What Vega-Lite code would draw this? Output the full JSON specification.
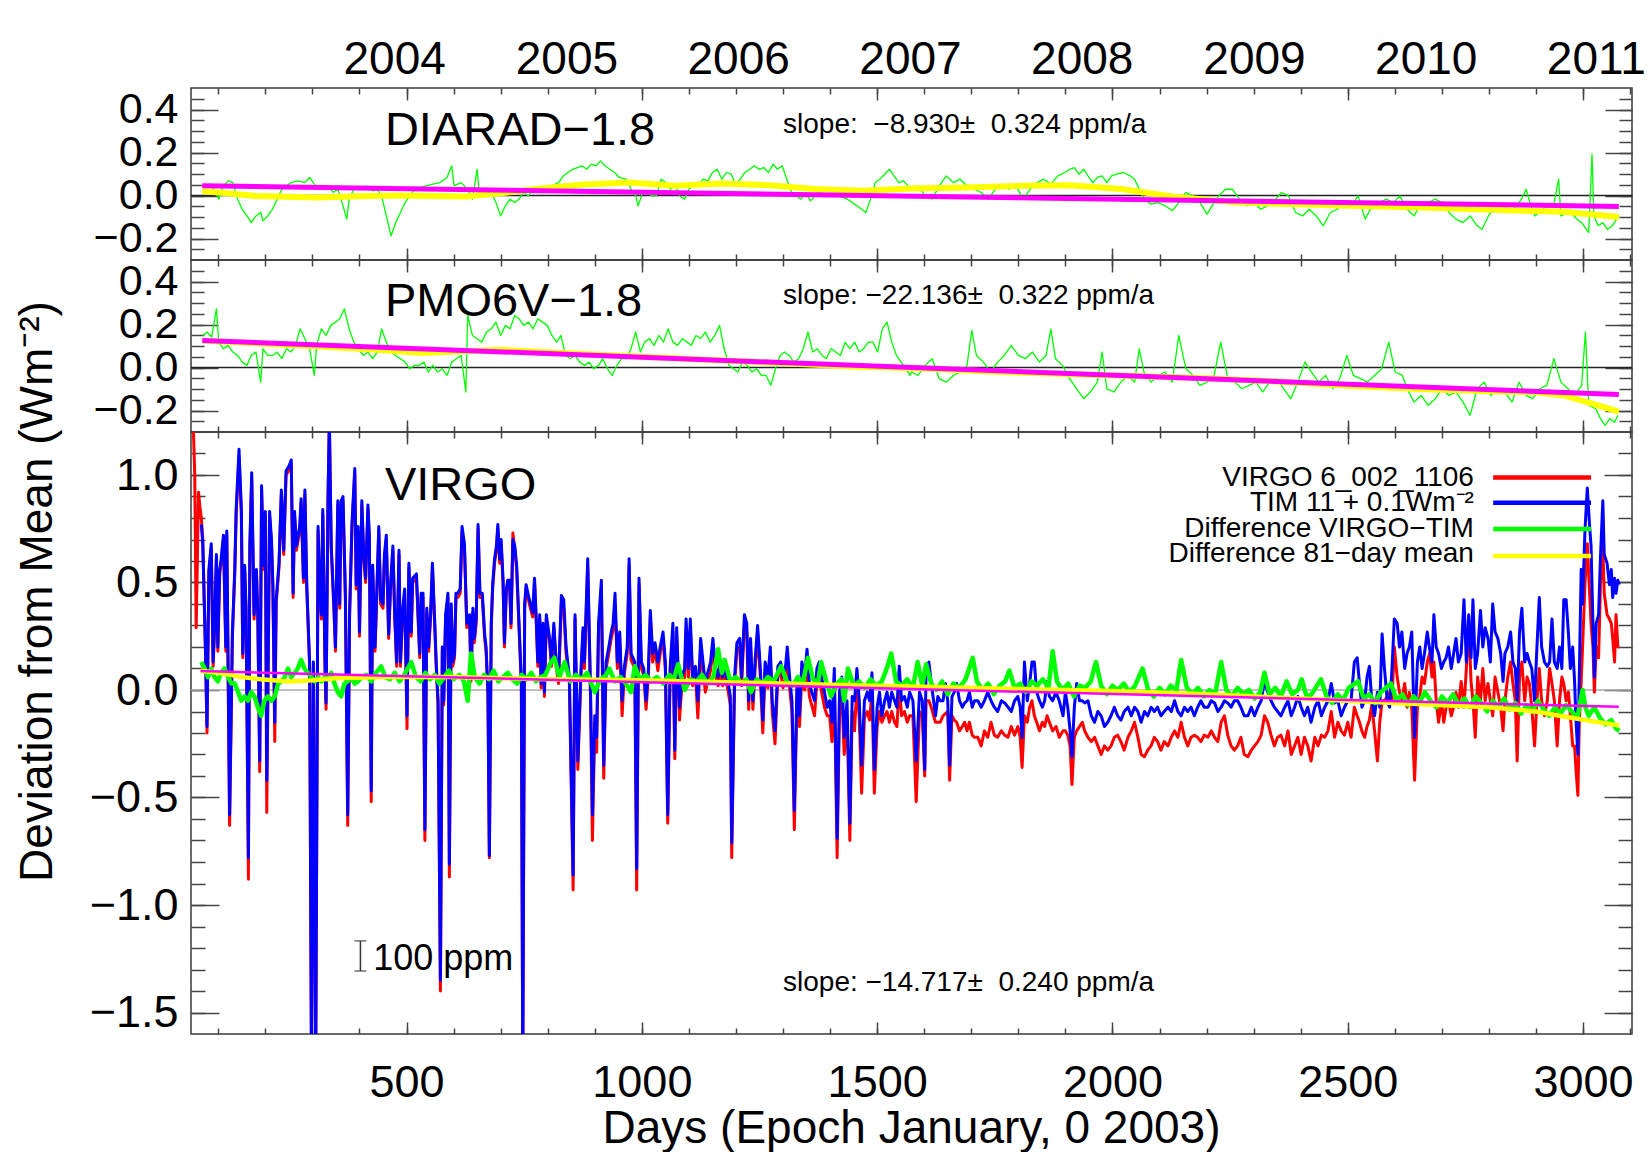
{
"$schema":"https://vega.github.io/schema/vega-lite/v6.json",
"background":"white",
"padding":{"left":13,"top":35,"right":0,"bottom":0},
"spacing":0,
"bounds":"flush",
"config":{
 "font":"Liberation Sans",
 "view":{"stroke":"#3a3a3a","strokeWidth":1.5},
 "axis":{"grid":false,"domain":false,"tickColor":"#444444","tickWidth":1.5,"labelColor":"#000000","titleColor":"#000000","labelFlush":false,"labelOverlap":false,"labelBound":false,"titleFontWeight":"normal","labelFont":"Liberation Sans","titleFont":"Liberation Sans"},
 "text":{"color":"#000000"}
},
"datasets":{
"virgo":[{"d":43,"v":1.25},{"d":47,"v":1.22},{"d":50,"v":1.0},{"d":53,"v":0.29},{"d":58,"v":0.92},{"d":61,"v":0.85},
{"d":64,"v":0.8,"t":0.77},{"d":67,"v":0.7,"t":0.68},{"d":73,"v":0.15,"t":0.17},{"d":76,"v":-0.2,"t":-0.17},{"d":80,"v":0.54,"t":0.56},{"d":85,"v":0.66,"t":0.68},{"d":89,"v":0.11,"t":0.13},{"d":92,"v":0.27,"t":0.29},{"d":96,"v":0.61,"t":0.63},{"d":99,"v":0.18,"t":0.2},{"d":103,"v":0.54,"t":0.56},{"d":106,"v":0.59,"t":0.61},{"d":111,"v":0.7,"t":0.72},{"d":116,"v":0.18,"t":0.2},{"d":118,"v":0.72,"t":0.74},{"d":124,"v":-0.63,"t":-0.58},{"d":130,"v":0.25,"t":0.27},{"d":135,"v":0.54,"t":0.56},{"d":138,"v":0.82,"t":0.84},{"d":144,"v":1.08,"t":1.12},{"d":149,"v":0.82,"t":0.84},{"d":152,"v":0.15,"t":0.17},{"d":156,"v":0.56,"t":0.58},{"d":159,"v":0.36,"t":0.38},{"d":164,"v":-0.88,"t":-0.78},{"d":167,"v":0.65,"t":0.67},{"d":171,"v":0.98,"t":1.01},{"d":176,"v":0.33,"t":0.35},{"d":181,"v":0.54,"t":0.56},{"d":184,"v":0.33,"t":0.35},{"d":188,"v":-0.38,"t":-0.33},{"d":192,"v":0.93,"t":0.95},{"d":196,"v":0.56,"t":0.58},{"d":200,"v":0.81,"t":0.83},{"d":203,"v":-0.57,"t":-0.42},{"d":206,"v":0.11,"t":0.13},{"d":209,"v":0.81,"t":0.83},{"d":213,"v":0.68,"t":0.7},{"d":216,"v":0.47,"t":0.49},{"d":220,"v":-0.24,"t":-0.15},{"d":223,"v":0.4,"t":0.42},{"d":229,"v":0.57,"t":0.59},{"d":234,"v":0.91,"t":0.93},{"d":239,"v":0.63,"t":0.65},{"d":244,"v":1.0,"t":1.02},{"d":250,"v":1.02,"t":1.04},{"d":255,"v":1.05,"t":1.07},{"d":259,"v":0.43,"t":0.45},{"d":262,"v":0.81,"t":0.83},{"d":266,"v":0.65,"t":0.67},{"d":273,"v":0.74,"t":0.76},{"d":276,"v":0.87,"t":0.89},{"d":281,"v":0.5,"t":0.52},{"d":284,"v":0.91,"t":0.93},{"d":288,"v":0.47,"t":0.49},{"d":294,"v":0.11,"t":0.13},{"d":298,"v":-1.75,"t":-1.75},{"d":302,"v":0.11,"t":0.13},{"d":307,"v":-1.75,"t":-1.75},{"d":312,"v":0.74,"t":0.76},{"d":315,"v":0.5,"t":0.52},{"d":319,"v":0.33,"t":0.35},{"d":322,"v":0.82,"t":0.84},{"d":327,"v":0.08,"t":0.1},{"d":329,"v":-0.09,"t":-0.06},{"d":333,"v":0.86,"t":0.88},{"d":336,"v":1.25,"t":1.25},{"d":340,"v":0.65,"t":0.67},{"d":345,"v":0.41,"t":0.43},{"d":349,"v":0.18,"t":0.2},{"d":354,"v":0.86,"t":0.88},{"d":358,"v":0.38,"t":0.4},{"d":361,"v":0.86,"t":0.88},{"d":365,"v":0.88,"t":0.9},{"d":370,"v":0.43,"t":0.45},{"d":375,"v":-0.63,"t":-0.58},{"d":379,"v":0.34,"t":0.36},{"d":384,"v":0.75,"t":0.77},{"d":390,"v":1.01,"t":1.03},{"d":393,"v":0.47,"t":0.49},{"d":397,"v":0.74,"t":0.76},{"d":400,"v":0.25,"t":0.27},{"d":405,"v":0.86,"t":0.88},{"d":409,"v":0.61,"t":0.63},{"d":413,"v":0.5,"t":0.52},{"d":418,"v":0.84,"t":0.86},{"d":421,"v":0.7,"t":0.72},{"d":425,"v":-0.52,"t":-0.47},{"d":428,"v":0.56,"t":0.58},{"d":433,"v":0.18,"t":0.2},{"d":436,"v":0.38,"t":0.4},{"d":441,"v":0.74,"t":0.76},{"d":445,"v":0.4,"t":0.42},{"d":450,"v":0.38,"t":0.4},{"d":453,"v":0.61,"t":0.63},{"d":457,"v":0.7,"t":0.72},{"d":462,"v":0.24,"t":0.26},{"d":466,"v":0.47,"t":0.49},{"d":471,"v":0.65,"t":0.67},{"d":475,"v":0.33,"t":0.35},{"d":479,"v":0.11,"t":0.13},{"d":484,"v":0.63,"t":0.65},{"d":487,"v":0.11,"t":0.13},{"d":492,"v":0.36,"t":0.38},{"d":496,"v":0.45,"t":0.47},{"d":501,"v":-0.18,"t":-0.12},{"d":505,"v":0.57,"t":0.59},{"d":510,"v":0.25,"t":0.27},{"d":513,"v":0.5,"t":0.52},{"d":521,"v":0.52,"t":0.54},{"d":528,"v":0.15,"t":0.17},{"d":531,"v":0.43,"t":0.45},{"d":535,"v":0.43,"t":0.45},{"d":539,"v":-0.7,"t":-0.65},{"d":543,"v":0.36,"t":0.38},{"d":547,"v":0.18,"t":0.2},{"d":551,"v":0.33,"t":0.35},{"d":555,"v":0.57,"t":0.59},{"d":560,"v":0.29,"t":0.31},{"d":563,"v":0.11,"t":0.13},{"d":567,"v":-0.07,"t":-0.05},{"d":572,"v":-1.4,"t":-1.35},{"d":576,"v":0.18,"t":0.2},{"d":579,"v":-0.07,"t":-0.05},{"d":583,"v":0.33,"t":0.35},{"d":588,"v":0.43,"t":0.45},{"d":591,"v":-0.87,"t":-0.81},{"d":595,"v":0.38,"t":0.4},{"d":598,"v":0.11,"t":0.13},{"d":602,"v":0.15,"t":0.17},{"d":605,"v":0.43,"t":0.45},{"d":609,"v":0.43,"t":0.45},{"d":614,"v":0.45,"t":0.47},{"d":618,"v":0.74,"t":0.76},{"d":623,"v":0.66,"t":0.68},{"d":628,"v":0.29,"t":0.31},{"d":634,"v":0.33,"t":0.35},{"d":637,"v":0.04,"t":0.06},{"d":641,"v":0.36,"t":0.38},{"d":644,"v":0.22,"t":0.24},{"d":648,"v":0.31,"t":0.33},{"d":652,"v":0.75,"t":0.77},{"d":656,"v":0.43,"t":0.45},{"d":661,"v":0.43,"t":0.45},{"d":666,"v":0.24,"t":0.26},{"d":669,"v":0.18,"t":0.2},{"d":673,"v":-0.03,"t":-0.01},{"d":676,"v":-0.78,"t":-0.77},{"d":680,"v":0.29,"t":0.31},{"d":683,"v":0.47,"t":0.49},{"d":687,"v":0.59,"t":0.61},{"d":691,"v":0.65,"t":0.67},{"d":694,"v":0.75,"t":0.77},{"d":698,"v":0.59,"t":0.61},{"d":701,"v":0.68,"t":0.7},{"d":705,"v":0.5,"t":0.52},{"d":708,"v":0.2,"t":0.22},{"d":712,"v":0.45,"t":0.47},{"d":715,"v":0.49,"t":0.51},{"d":719,"v":0.49,"t":0.51},{"d":722,"v":0.29,"t":0.31},{"d":726,"v":0.73,"t":0.7},{"d":730,"v":0.65,"t":0.67},{"d":734,"v":0.56,"t":0.58},{"d":739,"v":0.29,"t":0.31},{"d":744,"v":0.02,"t":0.04},{"d":747,"v":-1.75,"t":-1.75},{"d":751,"v":0.38,"t":0.4},{"d":754,"v":0.47,"t":0.49},{"d":758,"v":0.43,"t":0.45},{"d":761,"v":0.4,"t":0.42},{"d":768,"v":0.34,"t":0.36},{"d":772,"v":0.5,"t":0.52},{"d":776,"v":0.29,"t":0.31},{"d":779,"v":0.11,"t":0.13},{"d":783,"v":0.33,"t":0.35},{"d":786,"v":0.01,"t":0.03},{"d":790,"v":0.29,"t":0.31},{"d":793,"v":-0.03,"t":-0.01},{"d":797,"v":0.33,"t":0.35},{"d":804,"v":0.22,"t":0.24},{"d":808,"v":0.11,"t":0.13},
{"d":813,"v":0.29,"t":0.31},{"d":818,"v":0.11,"t":0.13},{"d":823,"v":0.03,"t":0.06},{"d":829,"v":0.4,"t":0.44},{"d":834,"v":0.38,"t":0.42},{"d":839,"v":0.17,"t":0.2},{"d":846,"v":0.03,"t":0.06},{"d":854,"v":-0.93,"t":-0.86},{"d":858,"v":0.33,"t":0.35},{"d":864,"v":-0.37,"t":-0.33},{"d":870,"v":0.03,"t":0.06},{"d":875,"v":0.27,"t":0.29},{"d":878,"v":0.1,"t":0.13},{"d":885,"v":0.58,"t":0.61},{"d":891,"v":-0.04,"t":-0.01},{"d":895,"v":-0.7,"t":-0.58},{"d":900,"v":-0.15,"t":-0.12},{"d":904,"v":-0.29,"t":-0.22},{"d":908,"v":0.28,"t":0.31},{"d":914,"v":0.47,"t":0.51},{"d":919,"v":-0.41,"t":-0.35},{"d":924,"v":0.1,"t":0.13},{"d":929,"v":0.16,"t":0.19},{"d":935,"v":0.24,"t":0.27},{"d":939,"v":0.28,"t":0.31},{"d":943,"v":0.4,"t":0.45},{"d":948,"v":0.1,"t":0.13},{"d":953,"v":0.24,"t":0.27},{"d":958,"v":-0.12,"t":-0.05},{"d":963,"v":0.08,"t":0.11},{"d":969,"v":0.17,"t":0.2},{"d":973,"v":0.58,"t":0.61},{"d":977,"v":0.14,"t":0.17},{"d":985,"v":0.1,"t":0.13},{"d":989,"v":-0.93,"t":-0.83},{"d":994,"v":0.49,"t":0.52},{"d":999,"v":0.1,"t":0.13},{"d":1004,"v":0.07,"t":0.1},{"d":1009,"v":-0.09,"t":-0.05},{"d":1014,"v":0.07,"t":0.1},{"d":1018,"v":0.34,"t":0.37},{"d":1023,"v":0.13,"t":0.17},{"d":1028,"v":0.19,"t":0.22},{"d":1034,"v":0.09,"t":0.13},{"d":1039,"v":0.17,"t":0.2},{"d":1045,"v":0.24,"t":0.27},{"d":1050,"v":0.09,"t":0.13},{"d":1055,"v":-0.62,"t":-0.58},{"d":1060,"v":0.06,"t":0.1},{"d":1066,"v":0.27,"t":0.31},{"d":1070,"v":-0.32,"t":-0.28},{"d":1074,"v":0.25,"t":0.29},{"d":1080,"v":-0.14,"t":-0.08},{"d":1085,"v":0.02,"t":0.06},{"d":1091,"v":0.06,"t":0.1},{"d":1094,"v":0.29,"t":0.33},{"d":1099,"v":0.06,"t":0.1},{"d":1103,"v":0.29,"t":0.33},{"d":1108,"v":0.02,"t":0.06},{"d":1114,"v":0.07,"t":0.11},{"d":1119,"v":-0.13,"t":-0.05},{"d":1125,"v":0.2,"t":0.24},{"d":1130,"v":0.09,"t":0.13},{"d":1135,"v":-0.01,"t":0.03},{"d":1140,"v":0.04,"t":0.08},{"d":1146,"v":0.09,"t":0.13},{"d":1151,"v":0.2,"t":0.24},{"d":1156,"v":0.07,"t":0.11},{"d":1162,"v":0.02,"t":0.06},{"d":1166,"v":0.09,"t":0.13},{"d":1172,"v":0.02,"t":0.06},{"d":1177,"v":0.06,"t":0.1},{"d":1183,"v":0.0,"t":0.04},{"d":1188,"v":-0.07,"t":-0.03},{"d":1191,"v":-0.78,"t":-0.71},{"d":1197,"v":0.02,"t":0.06},{"d":1202,"v":0.18,"t":0.22},{"d":1208,"v":0.2,"t":0.24},{"d":1212,"v":0.02,"t":0.06},{"d":1218,"v":0.31,"t":0.35},{"d":1223,"v":0.27,"t":0.31},{"d":1227,"v":-0.09,"t":-0.05},{"d":1231,"v":0.2,"t":0.24},{"d":1236,"v":-0.09,"t":-0.05},{"d":1241,"v":0.11,"t":0.15},{"d":1246,"v":0.26,"t":0.3},{"d":1251,"v":0.09,"t":0.13},{"d":1257,"v":-0.2,"t":-0.14},{"d":1262,"v":0.08,"t":0.13},{"d":1268,"v":0.01,"t":0.06},{"d":1273,"v":0.15,"t":0.2},{"d":1277,"v":-0.1,"t":-0.05},{"d":1283,"v":-0.25,"t":-0.19},{"d":1289,"v":0.06,"t":0.11},{"d":1295,"v":0.08,"t":0.13},{"d":1300,"v":0.01,"t":0.06},{"d":1305,"v":0.05,"t":0.1},{"d":1309,"v":0.15,"t":0.2},{"d":1314,"v":0.01,"t":0.06},{"d":1319,"v":-0.1,"t":-0.05},{"d":1324,"v":-0.65,"t":-0.56},{"d":1330,"v":0.0,"t":0.06},{"d":1335,"v":-0.17,"t":-0.12},{"d":1340,"v":0.07,"t":0.13},{"d":1346,"v":0.0,"t":0.06},{"d":1351,"v":0.13,"t":0.19},{"d":1356,"v":-0.03,"t":0.03},{"d":1361,"v":-0.07,"t":-0.01},{"d":1367,"v":-0.12,"t":-0.05},{"d":1372,"v":0.04,"t":0.1},{"d":1377,"v":0.06,"t":0.13},{"d":1382,"v":-0.01,"t":0.06},{"d":1388,"v":-0.08,"t":-0.01},{"d":1394,"v":-0.12,"t":-0.08},{"d":1399,"v":-0.12,"t":-0.05},{"d":1404,"v":-0.24,"t":-0.15},{"d":1409,"v":0.03,"t":0.1},{"d":1415,"v":-0.78,"t":-0.69},{"d":1420,"v":-0.08,"t":-0.01},{"d":1425,"v":-0.02,"t":0.06},{"d":1430,"v":-0.3,"t":-0.22},{"d":1436,"v":-0.12,"t":-0.05},{"d":1442,"v":-0.7,"t":-0.62},{"d":1447,"v":-0.1,"t":-0.03},{"d":1452,"v":-0.19,"t":-0.05},{"d":1457,"v":0.02,"t":0.1},{"d":1462,"v":-0.13,"t":-0.05},{"d":1467,"v":-0.48,"t":-0.35},{"d":1473,"v":-0.13,"t":-0.05},{"d":1479,"v":-0.1,"t":-0.01},{"d":1484,"v":-0.14,"t":-0.05},{"d":1489,"v":-0.01,"t":0.08},{"d":1494,"v":-0.48,"t":-0.37},{"d":1500,"v":-0.17,"t":-0.08},{"d":1505,"v":-0.1,"t":-0.01},{"d":1510,"v":-0.15,"t":-0.12},{"d":1516,"v":-0.12,"t":-0.05},{"d":1521,"v":-0.1,"t":-0.01},{"d":1526,"v":-0.15,"t":-0.08},{"d":1531,"v":-0.1,"t":-0.01},{"d":1537,"v":-0.15,"t":-0.05},{"d":1542,"v":-0.17,"t":-0.08},{"d":1547,"v":0.02,"t":0.11},{"d":1552,"v":-0.12,"t":-0.05},{"d":1558,"v":-0.1,"t":-0.03},{"d":1564,"v":-0.15,"t":-0.08},{"d":1569,"v":-0.12,"t":-0.01},{"d":1576,"v":-0.12,"t":-0.05},{"d":1583,"v":-0.52,"t":-0.33},{"d":1590,"v":-0.1,"t":-0.01},
{"d":1596,"v":-0.12,"t":-0.05},{"d":1601,"v":-0.4,"t":-0.37},{"d":1604,"v":-0.05,"t":0.1},{"d":1610,"v":-0.05,"t":0.13},{"d":1615,"v":-0.08,"t":0.03},{"d":1620,"v":-0.12,"t":-0.05},{"d":1624,"v":-0.15,"t":-0.12},{"d":1629,"v":-0.15,"t":-0.03},{"d":1634,"v":-0.15,"t":-0.05},{"d":1640,"v":-0.12,"t":-0.05},{"d":1645,"v":-0.11,"t":0.03},{"d":1650,"v":-0.1,"t":-0.05},{"d":1654,"v":-0.42,"t":-0.35},{"d":1659,"v":-0.12,"t":-0.03},{"d":1664,"v":-0.14,"t":-0.01},{"d":1669,"v":-0.15,"t":0.03},{"d":1675,"v":-0.19,"t":-0.05},{"d":1681,"v":-0.17,"t":-0.08},{"d":1686,"v":-0.15,"t":-0.06},{"d":1691,"v":-0.19,"t":-0.05},{"d":1696,"v":-0.15,"t":-0.01},{"d":1702,"v":-0.21,"t":-0.08},{"d":1707,"v":-0.22,"t":-0.05},{"d":1714,"v":-0.22,"t":-0.05},{"d":1721,"v":-0.26,"t":-0.08},{"d":1728,"v":-0.19,"t":-0.05},{"d":1735,"v":-0.22,"t":-0.01},{"d":1742,"v":-0.15,"t":-0.05},{"d":1749,"v":-0.21,"t":-0.08},{"d":1756,"v":-0.22,"t":-0.1},{"d":1764,"v":-0.19,"t":-0.05},{"d":1771,"v":-0.21,"t":-0.06},{"d":1778,"v":-0.22,"t":-0.08},{"d":1785,"v":-0.17,"t":-0.1},{"d":1792,"v":-0.21,"t":-0.05},{"d":1799,"v":-0.17,"t":-0.03},{"d":1804,"v":-0.22,"t":-0.08},{"d":1808,"v":-0.36,"t":-0.22},{"d":1813,"v":-0.12,"t":0.13},{"d":1819,"v":-0.15,"t":-0.05},{"d":1824,"v":-0.08,"t":0.03},{"d":1829,"v":-0.05,"t":0.13},{"d":1834,"v":-0.12,"t":0.13},{"d":1839,"v":-0.15,"t":-0.01},{"d":1845,"v":-0.19,"t":-0.05},{"d":1851,"v":-0.15,"t":-0.08},{"d":1856,"v":-0.17,"t":-0.05},{"d":1861,"v":-0.12,"t":0.04},{"d":1866,"v":-0.15,"t":-0.03},{"d":1873,"v":-0.19,"t":-0.05},{"d":1880,"v":-0.17,"t":-0.01},{"d":1887,"v":-0.22,"t":-0.05},{"d":1895,"v":-0.19,"t":-0.12},{"d":1900,"v":-0.19,"t":-0.01},{"d":1905,"v":-0.21,"t":-0.08},{"d":1910,"v":-0.26,"t":-0.19},{"d":1914,"v":-0.44,"t":-0.31},{"d":1919,"v":-0.22,"t":-0.08},{"d":1924,"v":-0.19,"t":0.03},{"d":1930,"v":-0.17,"t":-0.05},{"d":1936,"v":-0.15,"t":-0.05},{"d":1941,"v":-0.19,"t":-0.06},{"d":1948,"v":-0.22,"t":-0.05},{"d":1955,"v":-0.24,"t":-0.12},{"d":1962,"v":-0.22,"t":-0.15},{"d":1969,"v":-0.26,"t":-0.1},{"d":1976,"v":-0.3,"t":-0.12},{"d":1983,"v":-0.26,"t":-0.17},{"d":1990,"v":-0.28,"t":-0.15},{"d":1997,"v":-0.26,"t":-0.12},{"d":2004,"v":-0.22,"t":-0.08},{"d":2011,"v":-0.21,"t":-0.12},{"d":2018,"v":-0.24,"t":-0.14},{"d":2025,"v":-0.28,"t":-0.1},{"d":2033,"v":-0.22,"t":-0.08},{"d":2040,"v":-0.19,"t":-0.12},{"d":2047,"v":-0.15,"t":-0.08},{"d":2054,"v":-0.22,"t":-0.1},{"d":2061,"v":-0.3,"t":-0.15},{"d":2068,"v":-0.31,"t":-0.1},{"d":2075,"v":-0.28,"t":-0.12},{"d":2082,"v":-0.26,"t":-0.08},{"d":2089,"v":-0.22,"t":-0.1},{"d":2096,"v":-0.24,"t":-0.08},{"d":2103,"v":-0.28,"t":-0.12},{"d":2110,"v":-0.24,"t":-0.1},{"d":2118,"v":-0.26,"t":-0.08},{"d":2125,"v":-0.22,"t":-0.1},{"d":2132,"v":-0.19,"t":-0.05},{"d":2139,"v":-0.22,"t":-0.1},{"d":2146,"v":-0.15,"t":-0.12},{"d":2153,"v":-0.22,"t":-0.08},{"d":2160,"v":-0.26,"t":-0.1},{"d":2167,"v":-0.22,"t":-0.08},{"d":2174,"v":-0.21,"t":-0.12},{"d":2181,"v":-0.22,"t":-0.08},{"d":2188,"v":-0.24,"t":-0.05},{"d":2195,"v":-0.21,"t":-0.08},{"d":2203,"v":-0.22,"t":-0.08},{"d":2210,"v":-0.19,"t":-0.05},{"d":2217,"v":-0.22,"t":-0.06},{"d":2224,"v":-0.24,"t":-0.1},{"d":2231,"v":-0.15,"t":-0.08},{"d":2238,"v":-0.12,"t":-0.05},{"d":2245,"v":-0.21,"t":-0.06},{"d":2252,"v":-0.26,"t":-0.08},{"d":2259,"v":-0.28,"t":-0.05},{"d":2266,"v":-0.26,"t":-0.05},{"d":2273,"v":-0.22,"t":-0.08},{"d":2280,"v":-0.3,"t":-0.12},{"d":2288,"v":-0.31,"t":-0.12},{"d":2295,"v":-0.28,"t":-0.08},{"d":2302,"v":-0.26,"t":-0.12},{"d":2309,"v":-0.24,"t":-0.08},{"d":2316,"v":-0.21,"t":-0.05},{"d":2323,"v":-0.12,"t":0.04},{"d":2330,"v":-0.15,"t":-0.01},{"d":2337,"v":-0.21,"t":-0.05},{"d":2344,"v":-0.26,"t":-0.08},{"d":2351,"v":-0.22,"t":-0.1},{"d":2358,"v":-0.21,"t":-0.12},
{"d":2366,"v":-0.26,"t":-0.08},{"d":2373,"v":-0.19,"t":-0.05},{"d":2380,"v":-0.3,"t":-0.12},{"d":2387,"v":-0.26,"t":-0.08},{"d":2394,"v":-0.22,"t":-0.03},{"d":2401,"v":-0.3,"t":-0.08},{"d":2408,"v":-0.22,"t":-0.12},{"d":2415,"v":-0.26,"t":-0.08},{"d":2422,"v":-0.33,"t":-0.15},{"d":2430,"v":-0.22,"t":-0.08},{"d":2437,"v":-0.26,"t":-0.05},{"d":2444,"v":-0.21,"t":-0.12},{"d":2451,"v":-0.22,"t":-0.08},{"d":2458,"v":-0.19,"t":-0.05},{"d":2465,"v":-0.1,"t":0.03},{"d":2472,"v":-0.22,"t":-0.06},{"d":2479,"v":-0.15,"t":-0.05},{"d":2486,"v":-0.19,"t":-0.12},{"d":2493,"v":-0.21,"t":-0.08},{"d":2500,"v":-0.15,"t":-0.05},{"d":2507,"v":-0.22,"t":-0.05},{"d":2514,"v":-0.08,"t":0.13},{"d":2520,"v":-0.12,"t":0.15},{"d":2525,"v":-0.15,"t":0.03},{"d":2530,"v":-0.19,"t":-0.08},{"d":2536,"v":-0.22,"t":-0.05},{"d":2541,"v":-0.17,"t":0.06},{"d":2546,"v":-0.14,"t":0.11},{"d":2551,"v":-0.07,"t":-0.05},{"d":2557,"v":-0.19,"t":-0.12},{"d":2563,"v":-0.33,"t":-0.01},{"d":2568,"v":-0.15,"t":-0.08},{"d":2573,"v":-0.05,"t":0.26},{"d":2578,"v":-0.05,"t":0.1},{"d":2584,"v":-0.03,"t":-0.05},{"d":2589,"v":-0.01,"t":-0.08},{"d":2594,"v":-0.05,"t":0.1},{"d":2599,"v":0.2,"t":0.33},{"d":2605,"v":0.06,"t":0.31},{"d":2610,"v":-0.01,"t":0.2},{"d":2615,"v":-0.05,"t":0.27},{"d":2621,"v":0.03,"t":0.1},{"d":2626,"v":-0.08,"t":0.17},{"d":2631,"v":-0.01,"t":0.2},{"d":2636,"v":-0.08,"t":0.27},{"d":2642,"v":-0.42,"t":-0.22},{"d":2648,"v":-0.08,"t":0.13},{"d":2653,"v":-0.03,"t":0.2},{"d":2658,"v":0.06,"t":0.1},{"d":2663,"v":0.03,"t":0.17},{"d":2669,"v":0.13,"t":0.27},{"d":2674,"v":0.17,"t":0.19},{"d":2679,"v":0.06,"t":0.13},{"d":2683,"v":0.13,"t":0.35},{"d":2688,"v":-0.05,"t":0.2},{"d":2693,"v":-0.15,"t":0.17},{"d":2699,"v":-0.05,"t":0.1},{"d":2704,"v":-0.15,"t":0.13},{"d":2709,"v":-0.08,"t":0.15},{"d":2714,"v":-0.05,"t":0.2},{"d":2720,"v":-0.12,"t":0.1},{"d":2725,"v":-0.08,"t":0.17},{"d":2730,"v":-0.01,"t":0.24},{"d":2735,"v":-0.08,"t":0.13},{"d":2741,"v":0.04,"t":0.17},{"d":2747,"v":-0.08,"t":0.42},{"d":2752,"v":0.1,"t":0.13},{"d":2757,"v":0.31,"t":0.35},{"d":2762,"v":0.04,"t":0.15},{"d":2766,"v":-0.05,"t":0.42},{"d":2771,"v":-0.22,"t":0.1},{"d":2776,"v":0.06,"t":0.17},{"d":2782,"v":-0.05,"t":0.37},{"d":2787,"v":0.1,"t":0.2},{"d":2792,"v":-0.05,"t":0.29},{"d":2798,"v":0.03,"t":0.24},{"d":2803,"v":-0.05,"t":0.13},{"d":2808,"v":-0.12,"t":0.4},{"d":2813,"v":0.06,"t":0.27},{"d":2819,"v":-0.01,"t":0.24},{"d":2825,"v":-0.08,"t":0.17},{"d":2830,"v":-0.19,"t":0.04},{"d":2834,"v":-0.05,"t":0.17},{"d":2840,"v":0.06,"t":0.2},{"d":2846,"v":0.13,"t":0.27},{"d":2851,"v":0.03,"t":0.13},{"d":2856,"v":-0.05,"t":0.1},{"d":2860,"v":-0.33,"t":-0.05},{"d":2865,"v":0.06,"t":0.27},{"d":2870,"v":0.13,"t":0.38},{"d":2876,"v":-0.05,"t":0.13},{"d":2881,"v":0.06,"t":0.17},{"d":2886,"v":0.03,"t":0.13},{"d":2891,"v":-0.08,"t":0.1},{"d":2897,"v":-0.26,"t":-0.05},{"d":2902,"v":-0.05,"t":0.2},{"d":2907,"v":0.1,"t":0.43},{"d":2912,"v":-0.05,"t":0.2},{"d":2918,"v":-0.12,"t":0.13},{"d":2924,"v":-0.05,"t":0.11},{"d":2929,"v":0.1,"t":0.13},{"d":2934,"v":0.03,"t":0.33},{"d":2939,"v":-0.05,"t":0.13},{"d":2945,"v":-0.26,"t":0.1},{"d":2950,"v":-0.05,"t":0.2},{"d":2955,"v":0.06,"t":0.1},{"d":2959,"v":0.03,"t":0.42},{"d":2964,"v":-0.05,"t":0.42},{"d":2969,"v":-0.01,"t":0.26},{"d":2973,"v":-0.12,"t":0.1},{"d":2978,"v":-0.26,"t":0.2},{"d":2982,"v":-0.26,"t":0.04},{"d":2985,"v":-0.37,"t":-0.14},{"d":2989,"v":-0.49,"t":-0.3},{"d":2992,"v":-0.15,"t":0.06},{"d":2996,"v":0.04,"t":0.56},{"d":2999,"v":0.2,"t":0.4},{"d":3004,"v":0.49,"t":0.74},{"d":3009,"v":0.68,"t":0.94},{"d":3014,"v":0.45,"t":0.76},{"d":3017,"v":0.31,"t":0.67},{"d":3021,"v":0.2,"t":0.31},{"d":3024,"v":-0.01,"t":0.06},{"d":3028,"v":0.2,"t":0.31},{"d":3033,"v":0.15,"t":0.35},{"d":3037,"v":0.49,"t":0.62},{"d":3042,"v":0.67,"t":0.88},{"d":3045,"v":0.45,"t":0.63},{"d":3051,"v":0.35,"t":0.59},{"d":3056,"v":0.33,"t":0.49},{"d":3060,"v":0.31,"t":0.56},{"d":3063,"v":0.24,"t":0.43},{"d":3067,"v":0.13,"t":0.52},{"d":3070,"v":0.35,"t":0.45},{"d":3074,"v":0.2,"t":0.51},{"d":3077,"v":0.2,"t":0.49}],
"vdiff":[{"d":64,"g":0.13},{"d":71,"g":0.1},{"d":78,"g":0.06},{"d":85,"g":0.1},{"d":92,"g":0.06},{"d":99,"g":0.04},{"d":106,"g":0.08},{"d":113,"g":0.1},{"d":121,"g":0.06},{"d":128,"g":0.03},{"d":135,"g":0.03},{"d":142,"g":-0.01},{"d":149,"g":-0.05},{"d":156,"g":-0.03},{"d":163,"g":-0.05},{"d":170,"g":-0.01},{"d":177,"g":-0.03},{"d":184,"g":-0.08},{"d":191,"g":-0.12},{"d":198,"g":-0.05},{"d":205,"g":-0.03},{"d":213,"g":-0.05},{"d":220,"g":-0.03},{"d":227,"g":0.03},{"d":234,"g":0.04},{"d":241,"g":0.06},{"d":248,"g":0.1},{"d":255,"g":0.06},{"d":262,"g":0.08},{"d":269,"g":0.1},{"d":276,"g":0.14},{"d":283,"g":0.1},{"d":290,"g":0.08},{"d":298,"g":0.06},{"d":305,"g":0.04},{"d":312,"g":0.06},{"d":319,"g":0.04},{"d":326,"g":0.06},{"d":333,"g":0.05},{"d":340,"g":0.08},{"d":347,"g":0.03},{"d":354,"g":-0.01},{"d":361,"g":-0.03},{"d":368,"g":0.03},{"d":375,"g":0.04},{"d":382,"g":0.06},{"d":390,"g":0.03},{"d":397,"g":0.04},{"d":404,"g":0.06},{"d":415,"g":0.07},{"d":425,"g":0.04},{"d":435,"g":0.08},{"d":446,"g":0.11},{"d":455,"g":0.06},{"d":465,"g":0.05},{"d":475,"g":0.08},{"d":485,"g":0.04},{"d":495,"g":0.07},{"d":510,"g":0.13},{"d":520,"g":0.06},{"d":530,"g":0.04},{"d":540,"g":0.08},{"d":550,"g":0.05},{"d":560,"g":0.07},{"d":570,"g":0.03},{"d":580,"g":0.06},{"d":590,"g":0.09},{"d":600,"g":0.05},{"d":612,"g":0.07},{"d":622,"g":0.04},{"d":630,"g":-0.05},{"d":637,"g":0.17},{"d":645,"g":0.06},{"d":655,"g":0.03},{"d":665,"g":0.07},{"d":675,"g":0.05},{"d":685,"g":0.09},{"d":695,"g":0.04},{"d":705,"g":0.06},{"d":715,"g":0.08},{"d":725,"g":0.05},{"d":735,"g":0.03},{"d":745,"g":0.07},{"d":755,"g":0.05},{"d":765,"g":0.08},{"d":775,"g":0.04},{"d":785,"g":0.06},{"d":795,"g":0.07},{"d":807,"g":0.13},{"d":814,"g":0.15},{"d":825,"g":0.06},{"d":836,"g":0.13},{"d":848,"g":0.04},{"d":860,"g":0.07},{"d":872,"g":0.05},{"d":884,"g":0.08},{"d":900,"g":-0.01},{"d":912,"g":0.05},{"d":924,"g":0.07},{"d":931,"g":0.1},{"d":942,"g":0.04},{"d":955,"g":0.06},{"d":966,"g":0.03},{"d":977,"g":-0.01},{"d":985,"g":0.11},{"d":996,"g":0.05},{"d":1008,"g":0.07},{"d":1020,"g":0.04},{"d":1032,"g":0.06},{"d":1045,"g":0.03},{"d":1058,"g":0.07},{"d":1068,"g":0.05},{"d":1077,"g":0.12},{"d":1091,"g":0.0},{"d":1104,"g":0.05},{"d":1116,"g":0.04},{"d":1128,"g":0.07},{"d":1140,"g":0.03},{"d":1152,"g":0.06},{"d":1162,"g":0.19},{"d":1170,"g":0.08},{"d":1176,"g":0.14},{"d":1188,"g":0.04},{"d":1200,"g":0.06},{"d":1212,"g":0.03},{"d":1222,"g":0.05},{"d":1232,"g":-0.01},{"d":1244,"g":0.05},{"d":1256,"g":0.03},{"d":1268,"g":0.06},{"d":1280,"g":0.04},{"d":1296,"g":0.11},{"d":1308,"g":0.04},{"d":1320,"g":0.02},{"d":1332,"g":0.06},{"d":1342,"g":0.03},{"d":1353,"g":0.15},{"d":1364,"g":0.05},{"d":1374,"g":0.03},{"d":1381,"g":0.13},{"d":1392,"g":0.04},{"d":1402,"g":-0.03},{"d":1414,"g":0.03},{"d":1424,"g":0.05},{"d":1430,"g":-0.05},{"d":1438,"g":0.1},{"d":1450,"g":0.02},{"d":1462,"g":0.04},{"d":1474,"g":0.01},{"d":1486,"g":0.05},{"d":1498,"g":0.02},{"d":1510,"g":0.04},{"d":1522,"g":0.11},{"d":1530,"g":0.17},{"d":1540,"g":0.04},{"d":1552,"g":0.02},{"d":1564,"g":0.05},{"d":1576,"g":0.01},{"d":1586,"g":0.13},{"d":1596,"g":0.02},{"d":1604,"g":0.12},{"d":1615,"g":0.03},{"d":1626,"g":0.0},{"d":1638,"g":0.04},{"d":1650,"g":-0.02},{"d":1662,"g":0.03},{"d":1674,"g":0.01},{"d":1688,"g":0.05},{"d":1703,"g":0.15},{"d":1712,"g":0.04},{"d":1724,"g":0.0},{"d":1736,"g":0.03},{"d":1748,"g":-0.02},{"d":1760,"g":0.02},{"d":1772,"g":0.04},{"d":1781,"g":0.09},{"d":1792,"g":0.01},{"d":1804,"g":0.03},{"d":1816,"g":-0.01},{"d":1828,"g":0.04},{"d":1840,"g":0.02},{"d":1852,"g":0.05},{"d":1864,"g":0.01},{"d":1873,"g":0.18},{"d":1882,"g":0.04},{"d":1894,"g":0.0},{"d":1906,"g":0.03},{"d":1918,"g":-0.03},{"d":1930,"g":0.02},{"d":1942,"g":0.01},{"d":1954,"g":0.04},{"d":1965,"g":0.13},{"d":1976,"g":0.02},{"d":1988,"g":-0.02},{"d":2000,"g":0.02},{"d":2012,"g":0.0},{"d":2024,"g":0.03},{"d":2036,"g":-0.01},{"d":2048,"g":0.02},{"d":2064,"g":0.1},{"d":2076,"g":0.0},{"d":2088,"g":-0.03},{"d":2100,"g":0.01},{"d":2112,"g":-0.02},{"d":2124,"g":0.02},{"d":2136,"g":0.0},{"d":2146,"g":0.14},{"d":2158,"g":0.01},{"d":2170,"g":-0.02},{"d":2182,"g":0.01},{"d":2194,"g":-0.03},{"d":2206,"g":0.0},{"d":2218,"g":-0.02},{"d":2231,"g":0.13},{"d":2242,"g":0.0},{"d":2254,"g":-0.03},{"d":2266,"g":0.01},{"d":2278,"g":-0.02},{"d":2290,"g":0.0},{"d":2302,"g":-0.04},{"d":2314,"g":-0.01},{"d":2323,"g":0.08},{"d":2334,"g":-0.02},{"d":2346,"g":0.01},{"d":2358,"g":-0.03},{"d":2370,"g":0.04},{"d":2382,"g":-0.02},{"d":2394,"g":0.0},{"d":2402,"g":0.05},{"d":2414,"g":-0.04},{"d":2426,"g":-0.01},{"d":2443,"g":0.05},{"d":2455,"g":-0.03},{"d":2467,"g":-0.06},{"d":2479,"g":-0.02},{"d":2490,"g":-0.05},{"d":2502,"g":0.01},{"d":2522,"g":0.04},{"d":2534,"g":-0.04},{"d":2546,"g":-0.02},{"d":2558,"g":-0.06},{"d":2570,"g":-0.01},{"d":2592,"g":0.03},{"d":2604,"g":-0.05},{"d":2616,"g":-0.02},{"d":2628,"g":-0.07},{"d":2640,"g":-0.03},{"d":2652,"g":-0.06},{"d":2664,"g":-0.01},{"d":2676,"g":-0.05},{"d":2688,"g":-0.08},{"d":2700,"g":-0.03},{"d":2712,"g":-0.06},{"d":2724,"g":-0.02},{"d":2736,"g":-0.07},{"d":2748,"g":-0.04},{"d":2760,"g":-0.08},{"d":2772,"g":-0.03},{"d":2784,"g":-0.06},{"d":2796,"g":-0.1},{"d":2808,"g":-0.05},{"d":2820,"g":-0.08},{"d":2832,"g":-0.04},{"d":2844,"g":-0.09},{"d":2856,"g":-0.06},{"d":2868,"g":-0.11},{"d":2880,"g":-0.07},{"d":2892,"g":-0.1},{"d":2904,"g":-0.05},{"d":2916,"g":-0.09},{"d":2928,"g":-0.12},{"d":2940,"g":-0.08},{"d":2952,"g":-0.11},{"d":2964,"g":-0.07},{"d":2976,"g":-0.1},{"d":2988,"g":-0.13},{"d":2999,"g":0.0},{"d":3005,"g":-0.08},{"d":3012,"g":-0.12},{"d":3024,"g":-0.08},{"d":3036,"g":-0.13},{"d":3048,"g":-0.16},{"d":3060,"g":-0.14},{"d":3070,"g":-0.18},{"d":3077,"g":-0.19}],
"vmean":[{"d":62,"m":0.09},{"d":100,"m":0.08},{"d":150,"m":0.06},{"d":190,"m":0.05},{"d":250,"m":0.04},{"d":300,"m":0.045},{"d":350,"m":0.055},{"d":450,"m":0.06},{"d":600,"m":0.06},{"d":800,"m":0.05},{"d":1000,"m":0.045},{"d":1200,"m":0.035},{"d":1400,"m":0.025},{"d":1600,"m":0.015},{"d":1800,"m":0.005},{"d":2000,"m":-0.005},{"d":2200,"m":-0.02},{"d":2400,"m":-0.04},{"d":2600,"m":-0.06},{"d":2800,"m":-0.08},{"d":2900,"m":-0.1},{"d":2950,"m":-0.12},{"d":3020,"m":-0.145},{"d":3077,"m":-0.165}],
"vfit":[{"d":62,"f":0.088},{"d":3076,"f":-0.078}],
"diarad":[{"d":67,"g":0.045},{"d":81,"g":0.053},{"d":91,"g":0.029},{"d":101,"g":-0.017},{"d":111,"g":0.045},{"d":121,"g":0.068},{"d":131,"g":0.06},{"d":141,"g":-0.017},{"d":151,"g":-0.064},{"d":161,"g":-0.095},{"d":170,"g":-0.126},{"d":180,"g":-0.095},{"d":190,"g":-0.079},{"d":195,"g":-0.118},{"d":205,"g":-0.095},{"d":215,"g":-0.064},{"d":225,"g":-0.017},{"d":235,"g":0.029},{"d":245,"g":0.045},{"d":255,"g":0.06},{"d":269,"g":0.068},{"d":284,"g":0.06},{"d":294,"g":0.084},{"d":304,"g":0.053},{"d":314,"g":0.029},{"d":324,"g":0.029},{"d":334,"g":0.045},{"d":344,"g":0.014},{"d":354,"g":0.029},{"d":363,"g":-0.033},{"d":373,"g":-0.11},{"d":378,"g":-0.017},{"d":388,"g":0.029},{"d":398,"g":0.029},{"d":413,"g":0.045},{"d":428,"g":0.022},{"d":438,"g":0.029},{"d":447,"g":-0.002},{"d":457,"g":-0.095},{"d":467,"g":-0.188},{"d":477,"g":-0.126},{"d":487,"g":-0.079},{"d":497,"g":-0.033},{"d":507,"g":-0.002},{"d":517,"g":0.029},{"d":527,"g":0.037},{"d":541,"g":0.045},{"d":556,"g":0.053},{"d":571,"g":0.06},{"d":586,"g":0.084},{"d":596,"g":0.138},{"d":601,"g":0.045},{"d":616,"g":0.06},{"d":630,"g":0.029},{"d":640,"g":-0.017},{"d":650,"g":0.122},{"d":655,"g":-0.002},{"d":665,"g":0.029},{"d":680,"g":0.014},{"d":690,"g":-0.033},{"d":700,"g":-0.095},{"d":710,"g":-0.048},{"d":720,"g":-0.017},{"d":730,"g":-0.033},{"d":739,"g":-0.017},{"d":749,"g":0.014},{"d":759,"g":-0.002},{"d":769,"g":0.029},{"d":784,"g":0.014},{"d":799,"g":0.022},{"d":809,"g":0.045},{"d":823,"g":0.06},{"d":833,"g":0.091},{"d":843,"g":0.107},{"d":853,"g":0.122},{"d":863,"g":0.13},{"d":873,"g":0.138},{"d":883,"g":0.122},{"d":893,"g":0.146},{"d":903,"g":0.138},{"d":912,"g":0.161},{"d":922,"g":0.138},{"d":932,"g":0.122},{"d":942,"g":0.107},{"d":952,"g":0.084},{"d":967,"g":0.076},{"d":977,"g":0.029},{"d":987,"g":-0.002},{"d":992,"g":-0.048},{"d":1002,"g":0.014},{"d":1011,"g":0.014},{"d":1021,"g":-0.002},{"d":1031,"g":-0.002},{"d":1041,"g":0.076},{"d":1051,"g":0.06},{"d":1061,"g":0.029},{"d":1071,"g":0.045},{"d":1081,"g":-0.002},{"d":1091,"g":-0.017},{"d":1100,"g":0.029},{"d":1110,"g":0.045},{"d":1120,"g":0.045},{"d":1130,"g":0.076},{"d":1140,"g":0.068},{"d":1150,"g":0.107},{"d":1160,"g":0.122},{"d":1170,"g":0.076},{"d":1180,"g":0.107},{"d":1190,"g":0.099},{"d":1199,"g":0.053},{"d":1209,"g":0.076},{"d":1219,"g":0.107},{"d":1229,"g":0.122},{"d":1239,"g":0.138},{"d":1249,"g":0.122},{"d":1259,"g":0.13},{"d":1269,"g":0.107},{"d":1279,"g":0.146},{"d":1288,"g":0.122},{"d":1298,"g":0.138},{"d":1308,"g":0.076},{"d":1318,"g":0.014},{"d":1328,"g":-0.002},{"d":1338,"g":-0.017},{"d":1348,"g":0.014},{"d":1358,"g":-0.025},{"d":1368,"g":-0.002},{"d":1377,"g":0.022},{"d":1387,"g":-0.002},{"d":1397,"g":0.006},{"d":1407,"g":-0.002},{"d":1417,"g":0.022},{"d":1427,"g":-0.009},{"d":1437,"g":-0.017},{"d":1447,"g":-0.033},{"d":1457,"g":-0.048},{"d":1467,"g":-0.064},{"d":1476,"g":-0.079},{"d":1486,"g":-0.017},{"d":1496,"g":0.06},{"d":1506,"g":0.076},{"d":1516,"g":0.099},{"d":1526,"g":0.122},{"d":1536,"g":0.091},{"d":1546,"g":0.06},{"d":1556,"g":0.068},{"d":1566,"g":0.045},{"d":1573,"g":0.029},{"d":1587,"g":0.045},{"d":1602,"g":-0.002},{"d":1617,"g":-0.017},{"d":1632,"g":0.045},{"d":1647,"g":0.091},{"d":1662,"g":0.06},{"d":1676,"g":0.076},{"d":1691,"g":0.045},{"d":1706,"g":0.029},{"d":1721,"g":0.014},{"d":1736,"g":-0.017},{"d":1751,"g":0.029},{"d":1765,"g":0.045},{"d":1780,"g":0.029},{"d":1795,"g":0.045},{"d":1810,"g":-0.017},{"d":1825,"g":0.029},{"d":1840,"g":0.06},{"d":1854,"g":0.076},{"d":1869,"g":0.053},{"d":1884,"g":0.091},{"d":1899,"g":0.107},{"d":1909,"g":0.122},{"d":1919,"g":0.13},{"d":1929,"g":0.099},{"d":1939,"g":0.122},{"d":1948,"g":0.091},{"d":1958,"g":0.06},{"d":1968,"g":0.084},{"d":1978,"g":0.091},{"d":1988,"g":0.06},{"d":1998,"g":0.091},{"d":2008,"g":0.099},{"d":2023,"g":0.107},{"d":2038,"g":0.091},{"d":2047,"g":0.076},{"d":2057,"g":0.029},{"d":2067,"g":-0.017},{"d":2082,"g":-0.04},{"d":2097,"g":-0.033},{"d":2112,"g":-0.048},{"d":2127,"g":-0.071},{"d":2141,"g":-0.033},{"d":2156,"g":0.014},{"d":2171,"g":-0.002},{"d":2186,"g":-0.033},{"d":2201,"g":-0.087},{"d":2216,"g":-0.033},{"d":2226,"g":-0.002},{"d":2240,"g":0.029},{"d":2255,"g":0.029},{"d":2270,"g":-0.017},{"d":2285,"g":-0.048},{"d":2300,"g":-0.033},{"d":2315,"g":-0.064},{"d":2329,"g":-0.048},{"d":2344,"g":-0.025},{"d":2359,"g":0.014},{"d":2374,"g":-0.002},{"d":2389,"g":-0.079},{"d":2404,"g":-0.095},{"d":2418,"g":-0.064},{"d":2433,"g":-0.095},{"d":2448,"g":-0.141},{"d":2463,"g":-0.079},{"d":2478,"g":-0.064},{"d":2493,"g":-0.033},{"d":2507,"g":-0.048},{"d":2522,"g":-0.002},{"d":2537,"g":-0.11},{"d":2552,"g":-0.048},{"d":2567,"g":-0.033},{"d":2582,"g":-0.017},{"d":2597,"g":-0.033},{"d":2611,"g":-0.002},{"d":2626,"g":-0.064},{"d":2641,"g":-0.095},{"d":2656,"g":-0.033},{"d":2671,"g":-0.033},{"d":2686,"g":-0.017},{"d":2700,"g":-0.033},{"d":2715,"g":-0.079},{"d":2730,"g":-0.11},{"d":2745,"g":-0.126},{"d":2760,"g":-0.095},{"d":2775,"g":-0.141},{"d":2785,"g":-0.157},{"d":2799,"g":-0.095},{"d":2814,"g":-0.048},{"d":2829,"g":-0.033},{"d":2844,"g":-0.079},{"d":2859,"g":-0.048},{"d":2869,"g":-0.017},{"d":2879,"g":0.029},{"d":2889,"g":-0.048},{"d":2898,"g":-0.095},{"d":2913,"g":-0.064},{"d":2928,"g":-0.048},{"d":2938,"g":-0.04},{"d":2948,"g":0.076},{"d":2953,"g":-0.095},{"d":2968,"g":-0.079},{"d":2977,"g":-0.087},{"d":2987,"g":-0.11},{"d":2997,"g":-0.126},{"d":3007,"g":-0.157},{"d":3012,"g":-0.172},{"d":3019,"g":0.192},{"d":3023,"g":-0.095},{"d":3032,"g":-0.141},{"d":3042,"g":-0.126},{"d":3052,"g":-0.157},{"d":3062,"g":-0.141},{"d":3071,"g":-0.11},{"d":3076,"g":-0.095}],
"dmean":[{"d":66,"m":0.02},{"d":120,"m":0.01},{"d":180,"m":-0.002},{"d":309,"m":-0.009},{"d":400,"m":-0.003},{"d":477,"m":0.0},{"d":626,"m":-0.005},{"d":700,"m":0.01},{"d":774,"m":0.03},{"d":870,"m":0.05},{"d":972,"m":0.06},{"d":1071,"m":0.045},{"d":1170,"m":0.056},{"d":1269,"m":0.048},{"d":1368,"m":0.03},{"d":1467,"m":0.022},{"d":1572,"m":0.032},{"d":1691,"m":0.037},{"d":1810,"m":0.045},{"d":1909,"m":0.048},{"d":2018,"m":0.03},{"d":2127,"m":-0.005},{"d":2265,"m":-0.033},{"d":2463,"m":-0.045},{"d":2661,"m":-0.056},{"d":2859,"m":-0.07},{"d":2958,"m":-0.076},{"d":3076,"m":-0.1}],
"dfit":[{"d":66,"f":0.045},{"d":3076,"f":-0.051}],
"pmo":[{"d":67,"g":0.149},{"d":76,"g":0.165},{"d":86,"g":0.142},{"d":96,"g":0.273},{"d":101,"g":0.118},{"d":111,"g":0.087},{"d":121,"g":0.103},{"d":131,"g":0.072},{"d":141,"g":0.056},{"d":151,"g":0.025},{"d":161,"g":0.01},{"d":170,"g":0.056},{"d":180,"g":0.072},{"d":190,"g":-0.068},{"d":195,"g":0.087},{"d":205,"g":0.056},{"d":215,"g":0.056},{"d":225,"g":0.072},{"d":235,"g":0.041},{"d":245,"g":0.087},{"d":255,"g":0.072},{"d":264,"g":0.103},{"d":274,"g":0.18},{"d":284,"g":0.134},{"d":294,"g":0.087},{"d":304,"g":-0.037},{"d":309,"g":0.103},{"d":319,"g":0.18},{"d":329,"g":0.149},{"d":339,"g":0.196},{"d":349,"g":0.211},{"d":358,"g":0.227},{"d":368,"g":0.273},{"d":378,"g":0.18},{"d":388,"g":0.118},{"d":398,"g":0.087},{"d":408,"g":0.056},{"d":418,"g":0.072},{"d":428,"g":0.041},{"d":438,"g":0.072},{"d":447,"g":0.18},{"d":457,"g":0.118},{"d":467,"g":0.072},{"d":477,"g":0.056},{"d":487,"g":0.041},{"d":497,"g":0.025},{"d":507,"g":-0.006},{"d":517,"g":0.01},{"d":527,"g":0.01},{"d":537,"g":0.025},{"d":546,"g":-0.021},{"d":556,"g":0.01},{"d":566,"g":-0.021},{"d":576,"g":-0.006},{"d":586,"g":-0.037},{"d":596,"g":0.025},{"d":606,"g":0.041},{"d":616,"g":0.056},{"d":626,"g":-0.114},{"d":630,"g":0.242},{"d":640,"g":0.149},{"d":650,"g":0.134},{"d":660,"g":0.118},{"d":670,"g":0.165},{"d":680,"g":0.18},{"d":690,"g":0.211},{"d":700,"g":0.149},{"d":710,"g":0.196},{"d":720,"g":0.18},{"d":730,"g":0.242},{"d":739,"g":0.227},{"d":749,"g":0.196},{"d":759,"g":0.211},{"d":769,"g":0.18},{"d":779,"g":0.227},{"d":789,"g":0.211},{"d":799,"g":0.196},{"d":809,"g":0.149},{"d":819,"g":0.118},{"d":828,"g":0.149},{"d":838,"g":0.056},{"d":848,"g":0.041},{"d":858,"g":0.056},{"d":868,"g":0.025},{"d":878,"g":0.01},{"d":888,"g":0.025},{"d":898,"g":-0.006},{"d":908,"g":0.01},{"d":917,"g":0.041},{"d":927,"g":-0.006},{"d":937,"g":-0.037},{"d":947,"g":0.01},{"d":957,"g":0.041},{"d":967,"g":0.041},{"d":977,"g":0.087},{"d":987,"g":0.165},{"d":997,"g":0.072},{"d":1006,"g":0.118},{"d":1016,"g":0.134},{"d":1026,"g":0.103},{"d":1036,"g":0.149},{"d":1046,"g":0.118},{"d":1056,"g":0.18},{"d":1066,"g":0.118},{"d":1076,"g":0.103},{"d":1086,"g":0.134},{"d":1096,"g":0.118},{"d":1105,"g":0.103},{"d":1115,"g":0.149},{"d":1125,"g":0.134},{"d":1135,"g":0.165},{"d":1145,"g":0.118},{"d":1155,"g":0.149},{"d":1165,"g":0.196},{"d":1175,"g":0.087},{"d":1185,"g":0.01},{"d":1195,"g":-0.006},{"d":1204,"g":-0.021},{"d":1214,"g":0.025},{"d":1224,"g":0.01},{"d":1234,"g":-0.021},{"d":1244,"g":-0.006},{"d":1254,"g":-0.037},{"d":1264,"g":-0.037},{"d":1274,"g":-0.083},{"d":1284,"g":-0.006},{"d":1294,"g":0.056},{"d":1303,"g":0.072},{"d":1313,"g":0.056},{"d":1323,"g":0.025},{"d":1333,"g":0.041},{"d":1343,"g":0.087},{"d":1353,"g":0.165},{"d":1363,"g":0.072},{"d":1373,"g":0.087},{"d":1383,"g":0.056},{"d":1392,"g":0.041},{"d":1402,"g":0.087},{"d":1412,"g":0.072},{"d":1422,"g":0.056},{"d":1432,"g":0.118},{"d":1442,"g":0.087},{"d":1452,"g":0.118},{"d":1462,"g":0.072},{"d":1471,"g":0.087},{"d":1481,"g":0.118},{"d":1491,"g":0.118},{"d":1501,"g":0.072},{"d":1511,"g":0.18},{"d":1521,"g":0.211},{"d":1531,"g":0.118},{"d":1541,"g":0.056},{"d":1551,"g":0.025},{"d":1561,"g":-0.006},{"d":1570,"g":-0.037},{"d":1573,"g":-0.021},{"d":1587,"g":-0.037},{"d":1602,"g":0.01},{"d":1617,"g":0.041},{"d":1632,"g":-0.052},{"d":1647,"g":-0.068},{"d":1662,"g":-0.037},{"d":1676,"g":-0.021},{"d":1691,"g":0.01},{"d":1701,"g":0.173},{"d":1711,"g":0.056},{"d":1726,"g":0.025},{"d":1741,"g":-0.021},{"d":1756,"g":0.025},{"d":1770,"g":0.056},{"d":1785,"g":0.103},{"d":1800,"g":0.056},{"d":1815,"g":0.041},{"d":1830,"g":0.072},{"d":1845,"g":0.025},{"d":1859,"g":0.056},{"d":1869,"g":0.18},{"d":1879,"g":0.041},{"d":1894,"g":0.01},{"d":1909,"g":-0.052},{"d":1924,"g":-0.099},{"d":1939,"g":-0.145},{"d":1953,"g":-0.114},{"d":1968,"g":-0.068},{"d":1978,"g":0.072},{"d":1988,"g":-0.099},{"d":2003,"g":-0.114},{"d":2018,"g":-0.068},{"d":2033,"g":-0.037},{"d":2047,"g":-0.068},{"d":2057,"g":0.087},{"d":2067,"g":-0.021},{"d":2082,"g":-0.068},{"d":2097,"g":-0.037},{"d":2112,"g":-0.021},{"d":2127,"g":-0.068},{"d":2141,"g":0.149},{"d":2156,"g":-0.006},{"d":2171,"g":-0.037},{"d":2186,"g":-0.083},{"d":2201,"g":-0.068},{"d":2216,"g":-0.037},{"d":2230,"g":0.118},{"d":2245,"g":-0.052},{"d":2260,"g":-0.068},{"d":2275,"g":-0.099},{"d":2290,"g":-0.083},{"d":2305,"g":-0.068},{"d":2319,"g":-0.114},{"d":2334,"g":-0.068},{"d":2349,"g":-0.052},{"d":2364,"g":-0.099},{"d":2379,"g":-0.145},{"d":2394,"g":-0.068},{"d":2409,"g":0.025},{"d":2423,"g":-0.021},{"d":2438,"g":-0.068},{"d":2453,"g":-0.037},{"d":2468,"g":-0.099},{"d":2483,"g":-0.052},{"d":2498,"g":0.056},{"d":2512,"g":-0.037},{"d":2527,"g":-0.052},{"d":2542,"g":-0.068},{"d":2557,"g":-0.037},{"d":2572,"g":-0.006},{"d":2587,"g":0.118},{"d":2601,"g":-0.021},{"d":2616,"g":-0.037},{"d":2626,"g":-0.099},{"d":2641,"g":-0.161},{"d":2656,"g":-0.13},{"d":2671,"g":-0.176},{"d":2686,"g":-0.145},{"d":2700,"g":-0.099},{"d":2715,"g":-0.13},{"d":2730,"g":-0.114},{"d":2745,"g":-0.161},{"d":2760,"g":-0.223},{"d":2775,"g":-0.099},{"d":2790,"g":-0.068},{"d":2804,"g":-0.13},{"d":2819,"g":-0.099},{"d":2834,"g":-0.114},{"d":2849,"g":-0.161},{"d":2864,"g":-0.068},{"d":2879,"g":-0.13},{"d":2893,"g":-0.145},{"d":2908,"g":-0.099},{"d":2923,"g":-0.083},{"d":2938,"g":0.041},{"d":2953,"g":-0.068},{"d":2968,"g":-0.099},{"d":2982,"g":-0.13},{"d":2997,"g":-0.083},{"d":3005,"g":0.165},{"d":3012,"g":-0.176},{"d":3027,"g":-0.192},{"d":3037,"g":-0.238},{"d":3047,"g":-0.269},{"d":3057,"g":-0.238},{"d":3067,"g":-0.254},{"d":3074,"g":-0.223}],
"pmean":[{"d":66,"m":0.125},{"d":300,"m":0.1},{"d":420,"m":0.085},{"d":530,"m":0.068},{"d":620,"m":0.075},{"d":700,"m":0.082},{"d":850,"m":0.065},{"d":1000,"m":0.05},{"d":1150,"m":0.035},{"d":1300,"m":0.02},{"d":1450,"m":0.005},{"d":1600,"m":-0.005},{"d":1750,"m":-0.02},{"d":1900,"m":-0.03},{"d":2050,"m":-0.04},{"d":2200,"m":-0.05},{"d":2350,"m":-0.065},{"d":2500,"m":-0.085},{"d":2650,"m":-0.1},{"d":2800,"m":-0.11},{"d":2900,"m":-0.115},{"d":2960,"m":-0.13},{"d":3076,"m":-0.205}],
"pfit":[{"d":66,"f":0.126},{"d":3076,"f":-0.126}],
"legend":[{"s":"VIRGO 6_002_1106","a":2809,"b":3017,"tx":2768,"ly":0.988,"ty":0.949},{"s":"TIM 11 + 0.1Wm⁻²","a":2809,"b":3017,"tx":2768,"ly":0.871,"ty":0.833},{"s":"Difference VIRGO−TIM","a":2809,"b":3017,"tx":2768,"ly":0.749,"ty":0.712},{"s":"Difference 81−day mean","a":2809,"b":3017,"tx":2768,"ly":0.623,"ty":0.595}]
},
"vconcat":[
{
 "width":1441,"height":172,
 "resolve":{"axis":{"x":"independent","y":"independent"}},
 "layer":[
  {"data":{"values":[{"a":42,"b":3104,"z":0}]},"mark":{"type":"rule","color":"#222222","strokeWidth":1.5},
   "encoding":{
    "x":{"field":"a","type":"quantitative","scale":{"domain":[42,3104],"nice":false,"zero":false},
      "axis":{"orient":"top","values":[365,731,1096,1461,1826,2192,2557,2922],"ticks":false,"tickSize":0,"labelExpr":"'' + (2003 + round(datum.value / 365.25))","labelAlign":"left","labelBaseline":"alphabetic","labelFontSize":46,"labelPadding":15,"title":null}},
    "x2":{"field":"b"},
    "y":{"field":"z","type":"quantitative","scale":{"domain":[-0.3,0.5],"nice":false,"zero":false},"axis":null}}},
  {"data":{"name":"diarad"},"mark":{"type":"line","color":"#00ff00","strokeWidth":1.3,"clip":true,"strokeJoin":"round"},
   "encoding":{
    "x":{"field":"d","type":"quantitative","scale":{"domain":[42,3104],"nice":false,"zero":false},"axis":{"orient":"bottom","values":[500,1000,1500,2000,2500,3000],"tickSize":12,"offset":-12,"labels":false,"title":null}},
    "y":{"field":"g","type":"quantitative","scale":{"domain":[-0.3,0.5],"nice":false,"zero":false},"axis":{"orient":"left","values":[-0.2,0,0.2,0.4],"tickSize":27,"offset":-27,"format":".1f","labelFontSize":43,"labelPadding":13,"title":null}}}},
  {"data":{"name":"dmean"},"mark":{"type":"line","color":"#ffff00","strokeWidth":6,"clip":true,"strokeJoin":"round"},
   "encoding":{
    "x":{"field":"d","type":"quantitative","scale":{"domain":[42,3104],"nice":false,"zero":false},"axis":{"orient":"bottom","values":[100,200,300,400,500,600,700,800,900,1000,1100,1200,1300,1400,1500,1600,1700,1800,1900,2000,2100,2200,2300,2400,2500,2600,2700,2800,2900,3000,3100],"tickSize":6,"offset":-6,"labels":false,"title":null}},
    "y":{"field":"m","type":"quantitative","scale":{"domain":[-0.3,0.5],"nice":false,"zero":false},"axis":{"orient":"left","values":[-0.25,-0.2,-0.15,-0.1,-0.05,0,0.05,0.1,0.15,0.2,0.25,0.3,0.35,0.4,0.45],"tickSize":13,"offset":-13,"labels":false,"title":null}}}},
  {"data":{"name":"dfit"},"mark":{"type":"line","color":"#ff00ff","strokeWidth":5,"clip":true},
   "encoding":{
    "x":{"field":"d","type":"quantitative","scale":{"domain":[42,3104],"nice":false,"zero":false},"axis":{"orient":"top","values":[500,1000,1500,2000,2500,3000],"tickSize":12,"offset":-12,"labels":false,"title":null}},
    "y":{"field":"f","type":"quantitative","scale":{"domain":[-0.3,0.5],"nice":false,"zero":false},"axis":{"orient":"right","values":[-0.2,0,0.2,0.4],"tickSize":27,"offset":-27,"labels":false,"title":null}}}},
  {"data":{"values":[{"d":454,"v":0.235,"label":"DIARAD−1.8"}]},"mark":{"type":"text","align":"left","baseline":"alphabetic","fontSize":47},
   "encoding":{
    "x":{"field":"d","type":"quantitative","scale":{"domain":[42,3104],"nice":false,"zero":false},"axis":{"orient":"top","values":[100,200,300,400,500,600,700,800,900,1000,1100,1200,1300,1400,1500,1600,1700,1800,1900,2000,2100,2200,2300,2400,2500,2600,2700,2800,2900,3000,3100],"tickSize":6,"offset":-6,"labels":false,"title":null}},
    "y":{"field":"v","type":"quantitative","scale":{"domain":[-0.3,0.5],"nice":false,"zero":false},"axis":{"orient":"right","values":[-0.25,-0.2,-0.15,-0.1,-0.05,0,0.05,0.1,0.15,0.2,0.25,0.3,0.35,0.4,0.45],"tickSize":13,"offset":-13,"labels":false,"title":null}},
    "text":{"field":"label"}}},
  {"data":{"values":[{"d":1300,"v":0.292,"label":"slope:\u00a0\u00a0−8.930±\u00a0\u00a00.324 ppm/a"}]},"mark":{"type":"text","align":"left","baseline":"alphabetic","fontSize":28},
   "encoding":{
    "x":{"field":"d","type":"quantitative","scale":{"domain":[42,3104],"nice":false,"zero":false},"axis":null},
    "y":{"field":"v","type":"quantitative","scale":{"domain":[-0.3,0.5],"nice":false,"zero":false},"axis":null},
    "text":{"field":"label"}}}
 ]
},
{
 "width":1441,"height":172,
 "resolve":{"axis":{"x":"independent","y":"independent"}},
 "layer":[
  {"data":{"values":[{"a":42,"b":3104,"z":0}]},"mark":{"type":"rule","color":"#222222","strokeWidth":1.5},
   "encoding":{
    "x":{"field":"a","type":"quantitative","scale":{"domain":[42,3104],"nice":false,"zero":false},"axis":null},
    "x2":{"field":"b"},
    "y":{"field":"z","type":"quantitative","scale":{"domain":[-0.3,0.5],"nice":false,"zero":false},"axis":null}}},
  {"data":{"name":"pmo"},"mark":{"type":"line","color":"#00ff00","strokeWidth":1.3,"clip":true,"strokeJoin":"round"},
   "encoding":{
    "x":{"field":"d","type":"quantitative","scale":{"domain":[42,3104],"nice":false,"zero":false},"axis":{"orient":"bottom","values":[500,1000,1500,2000,2500,3000],"tickSize":12,"offset":-12,"labels":false,"title":null}},
    "y":{"field":"g","type":"quantitative","scale":{"domain":[-0.3,0.5],"nice":false,"zero":false},"axis":{"orient":"left","values":[-0.2,0,0.2,0.4],"tickSize":27,"offset":-27,"format":".1f","labelFontSize":43,"labelPadding":13,"title":null}}}},
  {"data":{"name":"pmean"},"mark":{"type":"line","color":"#ffff00","strokeWidth":6,"clip":true,"strokeJoin":"round"},
   "encoding":{
    "x":{"field":"d","type":"quantitative","scale":{"domain":[42,3104],"nice":false,"zero":false},"axis":{"orient":"bottom","values":[100,200,300,400,500,600,700,800,900,1000,1100,1200,1300,1400,1500,1600,1700,1800,1900,2000,2100,2200,2300,2400,2500,2600,2700,2800,2900,3000,3100],"tickSize":6,"offset":-6,"labels":false,"title":null}},
    "y":{"field":"m","type":"quantitative","scale":{"domain":[-0.3,0.5],"nice":false,"zero":false},"axis":{"orient":"left","values":[-0.25,-0.2,-0.15,-0.1,-0.05,0,0.05,0.1,0.15,0.2,0.25,0.3,0.35,0.4,0.45],"tickSize":13,"offset":-13,"labels":false,"title":null}}}},
  {"data":{"name":"pfit"},"mark":{"type":"line","color":"#ff00ff","strokeWidth":5,"clip":true},
   "encoding":{
    "x":{"field":"d","type":"quantitative","scale":{"domain":[42,3104],"nice":false,"zero":false},"axis":{"orient":"top","values":[500,1000,1500,2000,2500,3000],"tickSize":12,"offset":-12,"labels":false,"title":null}},
    "y":{"field":"f","type":"quantitative","scale":{"domain":[-0.3,0.5],"nice":false,"zero":false},"axis":{"orient":"right","values":[-0.2,0,0.2,0.4],"tickSize":27,"offset":-27,"labels":false,"title":null}}}},
  {"data":{"values":[{"d":454,"v":0.24,"label":"PMO6V−1.8"}]},"mark":{"type":"text","align":"left","baseline":"alphabetic","fontSize":47},
   "encoding":{
    "x":{"field":"d","type":"quantitative","scale":{"domain":[42,3104],"nice":false,"zero":false},"axis":{"orient":"top","values":[100,200,300,400,500,600,700,800,900,1000,1100,1200,1300,1400,1500,1600,1700,1800,1900,2000,2100,2200,2300,2400,2500,2600,2700,2800,2900,3000,3100],"tickSize":6,"offset":-6,"labels":false,"title":null}},
    "y":{"field":"v","type":"quantitative","scale":{"domain":[-0.3,0.5],"nice":false,"zero":false},"axis":{"orient":"right","values":[-0.25,-0.2,-0.15,-0.1,-0.05,0,0.05,0.1,0.15,0.2,0.25,0.3,0.35,0.4,0.45],"tickSize":13,"offset":-13,"labels":false,"title":null}},
    "text":{"field":"label"}}},
  {"data":{"values":[{"d":1300,"v":0.296,"label":"slope: −22.136±\u00a0\u00a00.322 ppm/a"}]},"mark":{"type":"text","align":"left","baseline":"alphabetic","fontSize":28},
   "encoding":{
    "x":{"field":"d","type":"quantitative","scale":{"domain":[42,3104],"nice":false,"zero":false},"axis":null},
    "y":{"field":"v","type":"quantitative","scale":{"domain":[-0.3,0.5],"nice":false,"zero":false},"axis":null},
    "text":{"field":"label"}}}
 ]
},
{
 "width":1441,"height":602,
 "resolve":{"axis":{"x":"independent","y":"independent"}},
 "layer":[
  {"data":{"values":[{"a":42,"b":3104,"z":0}]},"mark":{"type":"rule","color":"#aaaaaa","strokeWidth":1.5},
   "encoding":{
    "x":{"field":"a","type":"quantitative","scale":{"domain":[42,3104],"nice":false,"zero":false},"axis":null},
    "x2":{"field":"b"},
    "y":{"field":"z","type":"quantitative","scale":{"domain":[-1.6,1.2],"nice":false,"zero":false},"axis":null}}},
  {"data":{"name":"virgo"},"mark":{"type":"line","color":"#ff0000","strokeWidth":3,"clip":true,"strokeJoin":"round"},
   "encoding":{
    "x":{"field":"d","type":"quantitative","scale":{"domain":[42,3104],"nice":false,"zero":false},"axis":{"orient":"bottom","values":[500,1000,1500,2000,2500,3000],"tickSize":12,"offset":-12,"format":"d","labelFontSize":45,"labelPadding":26,"title":"Days (Epoch January, 0 2003)","titleFontSize":46,"titleX":720,"titleY":120,"titleBaseline":"alphabetic","titleAlign":"center"}},
    "y":{"field":"v","type":"quantitative","scale":{"domain":[-1.6,1.2],"nice":false,"zero":false},"axis":{"orient":"left","values":[-1.5,-1,-0.5,0,0.5,1],"tickSize":28,"offset":-28,"format":".1f","labelFontSize":45,"labelPadding":13,"title":"Deviation from Mean (Wm⁻²)","titleFontSize":46,"titleAngle":-90,"titleX":-168,"titleY":159,"titleBaseline":"alphabetic","titleAlign":"center"}}}},
  {"data":{"name":"virgo"},"mark":{"type":"line","color":"#0000ff","strokeWidth":3,"clip":true,"strokeJoin":"round"},
   "encoding":{
    "x":{"field":"d","type":"quantitative","scale":{"domain":[42,3104],"nice":false,"zero":false},"axis":{"orient":"bottom","values":[100,200,300,400,500,600,700,800,900,1000,1100,1200,1300,1400,1500,1600,1700,1800,1900,2000,2100,2200,2300,2400,2500,2600,2700,2800,2900,3000,3100],"tickSize":6,"offset":-6,"labels":false,"title":null}},
    "y":{"field":"t","type":"quantitative","scale":{"domain":[-1.6,1.2],"nice":false,"zero":false},"axis":{"orient":"left","values":[-1.5,-1.4,-1.3,-1.2,-1.1,-1,-0.9,-0.8,-0.7,-0.6,-0.5,-0.4,-0.3,-0.2,-0.1,0,0.1,0.2,0.3,0.4,0.5,0.6,0.7,0.8,0.9,1,1.1],"tickSize":14,"offset":-14,"labels":false,"title":null}}}},
  {"data":{"name":"vdiff"},"mark":{"type":"line","color":"#00ff00","strokeWidth":4.5,"clip":true,"strokeJoin":"round"},
   "encoding":{
    "x":{"field":"d","type":"quantitative","scale":{"domain":[42,3104],"nice":false,"zero":false},"axis":{"orient":"top","values":[500,1000,1500,2000,2500,3000],"tickSize":12,"offset":-12,"labels":false,"title":null}},
    "y":{"field":"g","type":"quantitative","scale":{"domain":[-1.6,1.2],"nice":false,"zero":false},"axis":{"orient":"right","values":[-1.5,-1,-0.5,0,0.5,1],"tickSize":28,"offset":-28,"labels":false,"title":null}}}},
  {"data":{"name":"vmean"},"mark":{"type":"line","color":"#ffff00","strokeWidth":4.5,"clip":true,"strokeJoin":"round"},
   "encoding":{
    "x":{"field":"d","type":"quantitative","scale":{"domain":[42,3104],"nice":false,"zero":false},"axis":{"orient":"top","values":[100,200,300,400,500,600,700,800,900,1000,1100,1200,1300,1400,1500,1600,1700,1800,1900,2000,2100,2200,2300,2400,2500,2600,2700,2800,2900,3000,3100],"tickSize":6,"offset":-6,"labels":false,"title":null}},
    "y":{"field":"m","type":"quantitative","scale":{"domain":[-1.6,1.2],"nice":false,"zero":false},"axis":{"orient":"right","values":[-1.5,-1.4,-1.3,-1.2,-1.1,-1,-0.9,-0.8,-0.7,-0.6,-0.5,-0.4,-0.3,-0.2,-0.1,0,0.1,0.2,0.3,0.4,0.5,0.6,0.7,0.8,0.9,1,1.1],"tickSize":14,"offset":-14,"labels":false,"title":null}}}},
  {"data":{"name":"vfit"},"mark":{"type":"line","color":"#ff00ff","strokeWidth":2.5,"clip":true},
   "encoding":{
    "x":{"field":"d","type":"quantitative","scale":{"domain":[42,3104],"nice":false,"zero":false},"axis":null},
    "y":{"field":"f","type":"quantitative","scale":{"domain":[-1.6,1.2],"nice":false,"zero":false},"axis":null}}},
  {"data":{"values":[{"d":454,"v":0.884,"label":"VIRGO"}]},"mark":{"type":"text","align":"left","baseline":"alphabetic","fontSize":47},
   "encoding":{
    "x":{"field":"d","type":"quantitative","scale":{"domain":[42,3104],"nice":false,"zero":false},"axis":null},
    "y":{"field":"v","type":"quantitative","scale":{"domain":[-1.6,1.2],"nice":false,"zero":false},"axis":null},
    "text":{"field":"label"}}},
  {"data":{"values":[{"d":1300,"v":-1.4,"label":"slope: −14.717±\u00a0\u00a00.240 ppm/a"}]},"mark":{"type":"text","align":"left","baseline":"alphabetic","fontSize":28},
   "encoding":{
    "x":{"field":"d","type":"quantitative","scale":{"domain":[42,3104],"nice":false,"zero":false},"axis":null},
    "y":{"field":"v","type":"quantitative","scale":{"domain":[-1.6,1.2],"nice":false,"zero":false},"axis":null},
    "text":{"field":"label"}}},
  {"data":{"values":[{"d":429,"v":-1.302,"label":"100 ppm"}]},"mark":{"type":"text","align":"left","baseline":"alphabetic","fontSize":36},
   "encoding":{
    "x":{"field":"d","type":"quantitative","scale":{"domain":[42,3104],"nice":false,"zero":false},"axis":null},
    "y":{"field":"v","type":"quantitative","scale":{"domain":[-1.6,1.2],"nice":false,"zero":false},"axis":null},
    "text":{"field":"label"}}},
  {"data":{"values":[{"d":402,"lo":-1.307,"hi":-1.167}]},"mark":{"type":"rule","color":"#333333","strokeWidth":1.5},
   "encoding":{
    "x":{"field":"d","type":"quantitative","scale":{"domain":[42,3104],"nice":false,"zero":false},"axis":null},
    "y":{"field":"lo","type":"quantitative","scale":{"domain":[-1.6,1.2],"nice":false,"zero":false},"axis":null},
    "y2":{"field":"hi"}}},
  {"data":{"values":[{"d":402,"e":-1.307},{"d":402,"e":-1.167}]},"mark":{"type":"tick","orient":"horizontal","color":"#333333","size":12,"thickness":1.5},
   "encoding":{
    "x":{"field":"d","type":"quantitative","scale":{"domain":[42,3104],"nice":false,"zero":false},"axis":null},
    "y":{"field":"e","type":"quantitative","scale":{"domain":[-1.6,1.2],"nice":false,"zero":false},"axis":null}}},
  {"data":{"name":"legend"},"mark":{"type":"rule","strokeWidth":4.5},
   "encoding":{
    "x":{"field":"a","type":"quantitative","scale":{"domain":[42,3104],"nice":false,"zero":false},"axis":null},
    "x2":{"field":"b"},
    "y":{"field":"ly","type":"quantitative","scale":{"domain":[-1.6,1.2],"nice":false,"zero":false},"axis":null},
    "color":{"field":"s","type":"nominal","scale":{"domain":["VIRGO 6_002_1106","TIM 11 + 0.1Wm⁻²","Difference VIRGO−TIM","Difference 81−day mean"],"range":["#ff0000","#0000ff","#00ff00","#ffff00"]},"legend":null}}},
  {"data":{"name":"legend"},"mark":{"type":"text","align":"right","baseline":"alphabetic","fontSize":28},
   "encoding":{
    "x":{"field":"tx","type":"quantitative","scale":{"domain":[42,3104],"nice":false,"zero":false},"axis":null},
    "y":{"field":"ty","type":"quantitative","scale":{"domain":[-1.6,1.2],"nice":false,"zero":false},"axis":null},
    "text":{"field":"s"}}}
 ]
}
]
}
